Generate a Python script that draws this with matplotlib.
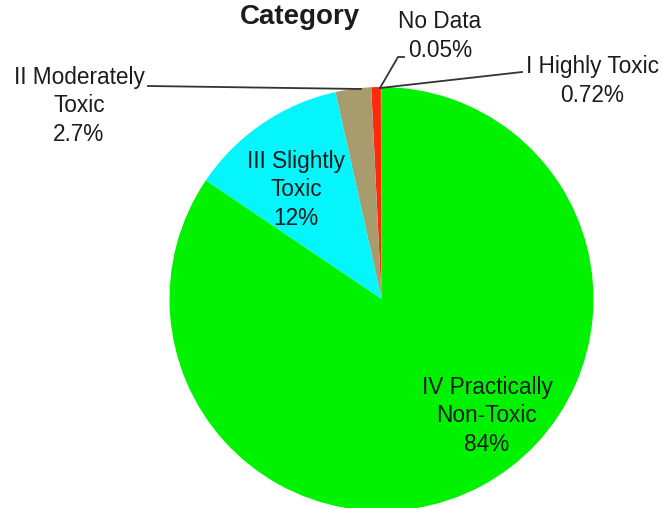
import matplotlib
matplotlib.use("Agg")
import matplotlib.pyplot as plt

# Toxicity category shares (percent)
categories = ["No Data", "I Highly Toxic", "II Moderately\nToxic",
              "III Slightly\nToxic", "IV Practically\nNon-Toxic"]
shares = [0.05, 0.72, 2.7, 12, 84]
colors = ["#6E5A2A", "#FF2A0A", "#A89B6E", "#05F5FC", "#00F200"]

W, H = 663, 508
fig = plt.figure(figsize=(W / 100, H / 100), dpi=100)
ax = fig.add_axes([0, 0, 1, 1])

plt.rcParams["font.family"] = ["Liberation Sans", "DejaVu Sans"]

cx, cy, r = 381.5, H - 299, 212
ax.pie(shares, colors=colors, startangle=90, counterclock=True,
       center=(cx, cy), radius=r, wedgeprops=dict(linewidth=0))
ax.set_xlim(0, W)
ax.set_ylim(0, H)
ax.set_aspect("equal")
ax.axis("off")

labels = [f"{name}\n{v:g}%" for name, v in zip(categories, shares)]
fs = 16.3
txt = dict(fontsize=fs, color="#1c1c1c", ha="center", va="center",
           linespacing=1.3)

# label placement in pixel coordinates (x, y from top)
label_pos = [(440, 36), (592, 81), (79, 106), (296, 190), (487, 416)]
for lab, (x, y) in zip(labels, label_pos):
    ax.text(x, H - y, lab, **txt)

# leader lines for the small outer slices
lc = dict(color="#333333", lw=1.3)
ax.plot([148, 361], [H - 86, H - 89], **lc)
ax.plot([380, 398, 404], [H - 88, H - 57, H - 57], **lc)
ax.plot([380, 522], [H - 88, H - 72], **lc)

ax.text(300, H - 17, "Category", fontsize=20, fontweight="bold",
        color="#1c1c1c", ha="center", va="center")

fig.savefig("out.png", dpi=100)
